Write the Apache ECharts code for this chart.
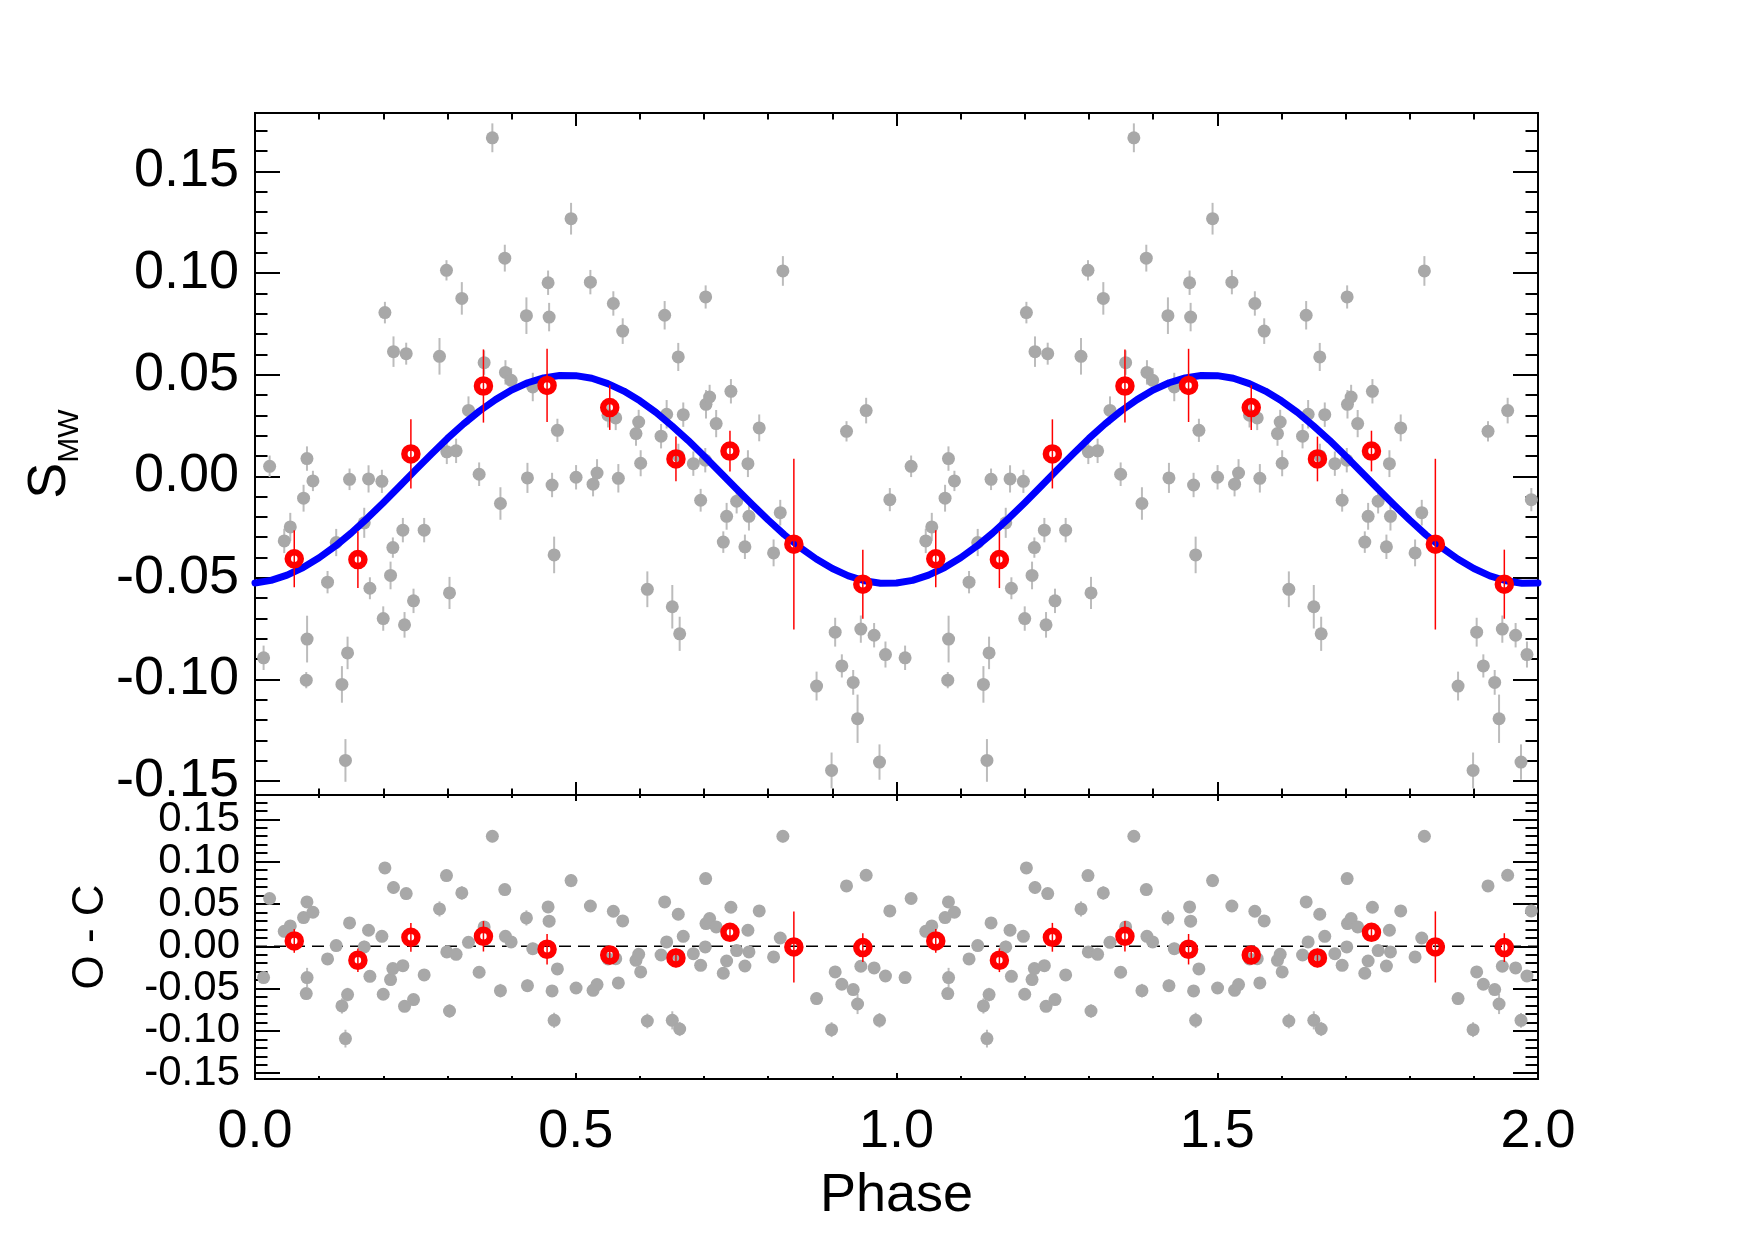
<!DOCTYPE html>
<html>
<head>
<meta charset="utf-8">
<script src="https://cdn.jsdelivr.net/npm/echarts@6/dist/echarts.min.js"></script>
<style>html,body{margin:0;padding:0;background:#fff}#chart{width:1754px;height:1240px}</style>
</head>
<body>
<div id="chart"></div>
<script>
// ---- individual measurements (one rotation, phase 0-1) ----
const phase = [0.0134,0.0228,0.0456,0.0550,0.0757,0.0799,0.0810,0.0812,0.0903,0.1131,
  0.1266,0.1355,0.1410,0.1443,0.1474,0.1703,0.1770,0.1791,0.1978,0.1999,
  0.2025,0.2113,0.2149,0.2159,0.2305,0.2331,0.2357,0.2471,0.2637,0.2876,
  0.2985,0.2990,0.3032,0.3135,0.3224,0.3328,0.3494,0.3572,0.3700,0.3826,
  0.3894,0.3904,0.3993,0.4231,0.4247,0.4330,0.4569,0.4585,0.4631,0.4663,
  0.4714,0.4927,0.5005,0.5228,0.5270,0.5332,0.5503,0.5586,0.5623,0.5664,
  0.5732,0.5939,0.5981,0.6012,0.6116,0.6330,0.6386,0.6417,0.6505,0.6598,
  0.6600,0.6620,0.6676,0.6833,0.6947,0.7019,0.7025,0.7030,0.7087,0.7189,
  0.7300,0.7352,0.7419,0.7508,0.7637,0.7684,0.7700,0.7860,0.8084,0.8188,
  0.8229,0.8754,0.8988,0.9044,0.9148,0.9221,0.9325,0.9393,0.9444,0.9527,
  0.9651,0.9735,0.9828,0.9896];
const smw = [-0.0893,0.0049,-0.0318,-0.0249,-0.0108,-0.1003,0.0087,-0.0801,-0.0023,-0.0521,
  -0.0326,-0.1024,-0.1398,-0.0869,-0.0015,-0.0229,-0.0013,-0.0551,-0.0025,-0.0700,
  0.0805,-0.0488,-0.0351,0.0613,-0.0265,-0.0731,0.0603,-0.0613,-0.0265,0.0590,
  0.1013,0.0120,-0.0574,0.0125,0.0875,0.0324,0.0010,0.0559,0.1665,-0.0134,
  0.1073,0.0511,0.0472,0.0790,-0.0008,0.0439,0.0952,0.0783,-0.0043,-0.0387,
  0.0226,0.1267,-0.0005,0.0955,-0.0039,0.0016,0.0300,0.0850,0.0287,-0.0010,
  0.0714,0.0210,0.0267,0.0064,-0.0556,0.0197,0.0792,0.0305,-0.0642,0.0587,
  0.0100,-0.0775,0.0303,0.0062,-0.0118,0.0079,0.0882,0.0354,0.0390,0.0259,
  -0.0324,-0.0197,0.0418,-0.0123,-0.0347,0.0062,-0.0197,0.0238,-0.0377,-0.0179,
  0.1010,-0.1032,-0.1447,-0.0767,-0.0933,0.0221,-0.1014,-0.1193,-0.0752,0.0323,
  -0.0782,-0.1406,-0.0877,-0.0115];
const smwErr = [0.0060,0.0053,0.0060,0.0069,0.0066,0.0040,0.0060,0.0115,0.0050,0.0055,
  0.0067,0.0090,0.0105,0.0080,0.0053,0.0074,0.0067,0.0054,0.0057,0.0060,
  0.0053,0.0068,0.0050,0.0075,0.0060,0.0063,0.0054,0.0060,0.0060,0.0090,
  0.0050,0.0060,0.0079,0.0060,0.0080,0.0069,0.0058,0.0060,0.0071,0.0080,
  0.0066,0.0060,0.0060,0.0090,0.0074,0.0070,0.0060,0.0070,0.0060,0.0090,
  0.0057,0.0078,0.0060,0.0060,0.0060,0.0068,0.0060,0.0060,0.0060,0.0070,
  0.0063,0.0060,0.0060,0.0064,0.0088,0.0060,0.0070,0.0070,0.0107,0.0069,
  0.0060,0.0084,0.0060,0.0060,0.0056,0.0060,0.0057,0.0070,0.0060,0.0067,
  0.0053,0.0066,0.0060,0.0060,0.0060,0.0066,0.0070,0.0066,0.0066,0.0063,
  0.0073,0.0071,0.0088,0.0071,0.0057,0.0050,0.0061,0.0119,0.0067,0.0063,
  0.0060,0.0087,0.0064,0.0057];
const oc = [-0.0370,0.0564,0.0177,0.0240,0.0339,-0.0559,0.0524,-0.0370,0.0402,-0.0150,
  0.0008,-0.0705,-0.1091,-0.0571,0.0276,-0.0008,0.0189,-0.0355,0.0118,-0.0567,
  0.0926,-0.0394,-0.0264,0.0694,-0.0229,-0.0709,0.0623,-0.0630,-0.0339,0.0441,
  0.0835,-0.0067,-0.0765,-0.0095,0.0630,0.0047,-0.0307,0.0228,0.1300,-0.0524,
  0.0670,0.0118,0.0051,0.0335,-0.0465,-0.0028,0.0465,0.0296,-0.0528,-0.0875,
  -0.0268,0.0776,-0.0493,0.0476,-0.0520,-0.0453,-0.0150,0.0414,-0.0146,-0.0433,
  0.0299,-0.0166,-0.0095,-0.0303,-0.0883,-0.0103,0.0524,0.0051,-0.0875,0.0378,
  -0.0110,-0.0977,0.0118,-0.0087,-0.0225,-0.0008,0.0800,0.0268,0.0327,0.0228,
  -0.0319,-0.0174,0.0461,-0.0051,-0.0233,0.0189,-0.0067,0.0417,-0.0126,0.0098,
  0.1300,-0.0618,-0.0985,-0.0303,-0.0449,0.0713,-0.0512,-0.0682,-0.0236,0.0839,
  -0.0256,-0.0875,-0.0351,0.0417];

// ---- binned averages ----
const binPhase = [0.0612,0.1604,0.2430,0.3561,0.4553,0.5530,0.6562,0.7404,0.8400,0.9475];
const binSmw   = [-0.0406,-0.0410,0.0110,0.0444,0.0447,0.0338,0.0085,0.0124,-0.0334,-0.0531];
const binErr   = [0.0140,0.0140,0.0170,0.0180,0.0180,0.0110,0.0110,0.0100,0.0420,0.0170];
const binOc    = [0.0063,-0.0165,0.0106,0.0118,-0.0035,-0.0103,-0.0138,0.0165,-0.0008,-0.0016];

// ---- fitted sinusoid ----
const fitPhase = [0,0.025,0.05,0.075,0.10,0.125,0.15,0.175,0.20,0.225,0.25,0.275,0.30,0.325,0.35,0.375,0.40,0.425,0.45,0.475,
  0.50,0.525,0.55,0.575,0.60,0.625,0.65,0.675,0.70,0.725,0.75,0.775,0.80,0.825,0.85,0.875,0.90,0.925,0.95,0.975,1.00];
const fitSmw   = [-0.0525,-0.0512,-0.0486,-0.0449,-0.0401,-0.0344,-0.0279,-0.0207,-0.0130,-0.0050,0.0030,0.0109,0.0186,0.0257,0.0321,0.0377,0.0424,0.0460,0.0484,0.0496,
  0.0495,0.0482,0.0456,0.0419,0.0371,0.0314,0.0248,0.0177,0.0100,0.0020,-0.0060,-0.0139,-0.0215,-0.0287,-0.0351,-0.0407,-0.0454,-0.0490,-0.0514,-0.0526,-0.0525];

// ---- axes ----
const cycles = [0, 1];
const yMin = -0.1568, yMax = 0.1787;
const yTicks = [-0.15,-0.10,-0.05,0,0.05,0.10,0.15];
const yMinorTicks = [-0.15,-0.14,-0.13,-0.12,-0.11,-0.10,-0.09,-0.08,-0.07,-0.06,-0.05,-0.04,-0.03,-0.02,-0.01,0,
  0.01,0.02,0.03,0.04,0.05,0.06,0.07,0.08,0.09,0.10,0.11,0.12,0.13,0.14,0.15,0.16,0.17];
const xTickLabels = ['0.0','0.5','1.0','1.5','2.0'];

const FONT = '"Liberation Sans", Arial, Helvetica, sans-serif';
const BLACK = '#000';

function fold(xs, ys) { return cycles.flatMap(c => xs.map((x, i) => [x + c, ys[i]])); }
function foldErr(xs, ys, es) { return cycles.flatMap(c => xs.map((x, i) => [x + c, ys[i] - es[i], ys[i] + es[i]])); }
const fitData = fold(fitPhase.slice(0, -1), fitSmw.slice(0, -1)).concat([[2, fitSmw[fitSmw.length - 1]]]);

function xAxis(gridIndex, position, majorLen, minorLen, labels) {
  return {
    type: 'value', gridIndex, position, min: 0, max: 2, interval: 0.5,
    axisLine: { show: true, onZero: false, lineStyle: { color: BLACK, width: 2 } },
    axisTick: { show: true, inside: true, length: majorLen, lineStyle: { color: BLACK, width: 2 } },
    minorTick: { show: true, splitNumber: 5, length: minorLen, lineStyle: { color: BLACK, width: 2 } },
    splitLine: { show: false }, minorSplitLine: { show: false },
    axisLabel: labels ? { show: true, margin: 26, fontSize: 54, color: BLACK, fontFamily: FONT,
      formatter: v => xTickLabels[Math.round(v * 2)] } : { show: false },
    name: labels ? 'Phase' : '', nameLocation: 'middle', nameGap: 90,
    nameTextStyle: { fontSize: 54, color: BLACK, fontFamily: FONT }
  };
}

function yAxes(gridIndex, majorLen, minorLen, fontSize, labelMargin, name, nameGap, nameStyle) {
  const base = {
    type: 'value', gridIndex, min: yMin, max: yMax, splitNumber: 7,
    axisLine: { show: true, onZero: false, lineStyle: { color: BLACK, width: 2 } },
    splitLine: { show: false }
  };
  const tick = (len, vals) => ({ show: true, inside: true, length: len, customValues: vals, lineStyle: { color: BLACK, width: 2 } });
  return [
    Object.assign({}, base, { position: 'left', axisTick: tick(majorLen, yTicks),
      axisLabel: { show: true, customValues: yTicks, margin: labelMargin, fontSize, color: BLACK, fontFamily: FONT,
        formatter: v => v.toFixed(2) },
      name, nameLocation: 'middle', nameRotate: 90, nameGap, nameTextStyle: nameStyle }),
    Object.assign({}, base, { position: 'left', axisTick: tick(minorLen, yMinorTicks), axisLabel: { show: false } }),
    Object.assign({}, base, { position: 'right', axisTick: tick(majorLen, yTicks), axisLabel: { show: false } }),
    Object.assign({}, base, { position: 'right', axisTick: tick(minorLen, yMinorTicks), axisLabel: { show: false } })
  ];
}

function errBars(xAxisIndex, yAxisIndex, data, color, width, z) {
  return {
    type: 'custom', xAxisIndex, yAxisIndex, data, z, silent: true,
    encode: { x: 0, y: [1, 2] },
    renderItem: (params, api) => {
      const a = api.coord([api.value(0), api.value(1)]);
      const b = api.coord([api.value(0), api.value(2)]);
      return { type: 'line', shape: { x1: a[0], y1: a[1], x2: b[0], y2: b[1] },
        style: { stroke: color, lineWidth: width } };
    }
  };
}

const GRAY = '#a8a8a8', GRAY_ERR = '#bcbcbc', RED = '#ff0000', BLUE = '#0000ff';
const redRing = { color: 'rgba(0,0,0,0)', borderColor: RED, borderWidth: 6.5, opacity: 1 };

const option = {
  animation: false,
  backgroundColor: '#fff',
  grid: [
    { left: 255, top: 113, width: 1283, height: 682, containLabel: false, outerBoundsMode: 'none' },
    { left: 255, top: 795, width: 1283, height: 284, containLabel: false, outerBoundsMode: 'none' }
  ],
  xAxis: [
    xAxis(0, 'bottom', 13, 6.5, false),
    xAxis(0, 'top', 13, 6.5, false),
    xAxis(1, 'bottom', 6, 3, true),
    xAxis(1, 'top', 6, 3, false)
  ],
  yAxis: [].concat(
    yAxes(0, 25, 12.5, 54, 16, '{s|S}{m|MW}', 170, {
      color: BLACK, fontFamily: FONT,
      rich: { s: { fontSize: 54, lineHeight: 70, fontFamily: FONT, color: BLACK },
              m: { fontSize: 30, lineHeight: 30, verticalAlign: 'bottom', fontFamily: FONT, color: BLACK } }
    }),
    yAxes(1, 25, 12.5, 42, 15, 'O - C', 142, { fontSize: 44, color: BLACK, fontFamily: FONT })
  ),
  series: [
    // top panel
    errBars(0, 0, foldErr(phase, smw, smwErr), GRAY_ERR, 2, 1),
    { type: 'scatter', xAxisIndex: 0, yAxisIndex: 0, data: fold(phase, smw), symbol: 'circle', symbolSize: 13,
      itemStyle: { color: GRAY, opacity: 1 }, z: 2, silent: true },
    { type: 'line', xAxisIndex: 0, yAxisIndex: 0, data: fitData, smooth: false, showSymbol: false,
      lineStyle: { color: BLUE, width: 7, join: 'round', cap: 'round' }, z: 3, silent: true },
    errBars(0, 0, foldErr(binPhase, binSmw, binErr), RED, 1.5, 4),
    { type: 'scatter', xAxisIndex: 0, yAxisIndex: 0, data: fold(binPhase, binSmw), symbol: 'circle', symbolSize: 13,
      itemStyle: redRing, z: 5, silent: true },
    // bottom panel
    { type: 'line', xAxisIndex: 2, yAxisIndex: 4, data: [[0, 0], [2, 0]], showSymbol: false,
      lineStyle: { color: BLACK, width: 1.5, type: [12, 7] }, z: 1, silent: true },
    errBars(2, 4, foldErr(phase, oc, smwErr), GRAY_ERR, 2, 1),
    { type: 'scatter', xAxisIndex: 2, yAxisIndex: 4, data: fold(phase, oc), symbol: 'circle', symbolSize: 13,
      itemStyle: { color: GRAY, opacity: 1 }, z: 2, silent: true },
    errBars(2, 4, foldErr(binPhase, binOc, binErr), RED, 1.5, 4),
    { type: 'scatter', xAxisIndex: 2, yAxisIndex: 4, data: fold(binPhase, binOc), symbol: 'circle', symbolSize: 13,
      itemStyle: redRing, z: 5, silent: true }
  ]
};

const chart = echarts.init(document.getElementById('chart'), null, { renderer: 'canvas' });
chart.setOption(option);
</script>
</body>
</html>
